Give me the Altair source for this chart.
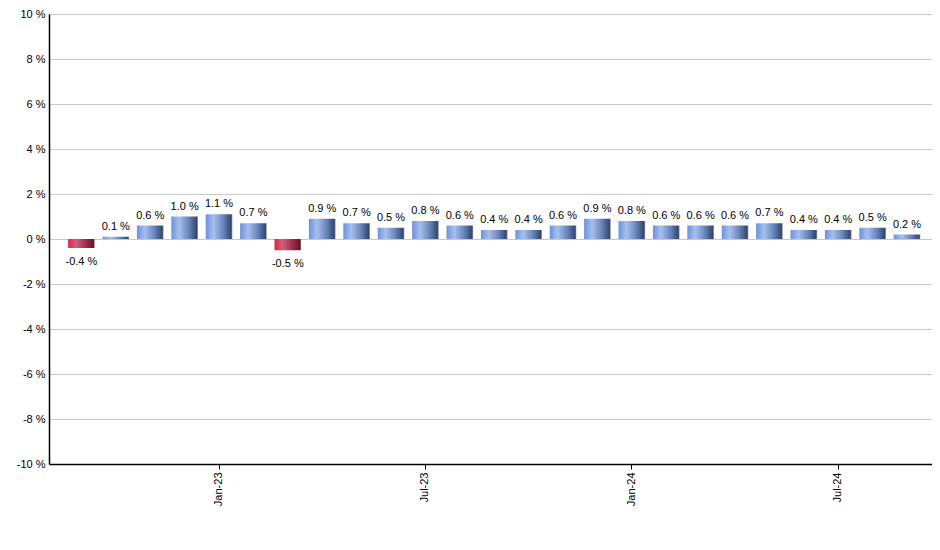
import altair as alt
import pandas as pd

months = ["Sep-22", "Oct-22", "Nov-22", "Dec-22", "Jan-23", "Feb-23", "Mar-23",
          "Apr-23", "May-23", "Jun-23", "Jul-23", "Aug-23", "Sep-23", "Oct-23",
          "Nov-23", "Dec-23", "Jan-24", "Feb-24", "Mar-24", "Apr-24", "May-24",
          "Jun-24", "Jul-24", "Aug-24", "Sep-24"]
values = [-0.4, 0.1, 0.6, 1.0, 1.1, 0.7, -0.5, 0.9, 0.7, 0.5, 0.8, 0.6, 0.4, 0.4,
          0.6, 0.9, 0.8, 0.6, 0.6, 0.6, 0.7, 0.4, 0.4, 0.5, 0.2]
tick_months = ["Jan-23", "Jul-23", "Jan-24", "Jul-24"]
y_ticks = [-10, -8, -6, -4, -2, 0, 2, 4, 6, 8, 10]

df = pd.DataFrame({"month": months, "value": values})
df["label"] = [f"{v:.1f} %" for v in values]

FONT = "Liberation Sans"

x_enc = alt.X("month:N", sort=months, title=None,
              scale=alt.Scale(domain=months, paddingInner=0.227,
                              paddingOuter=0.448, align=0.62),
              axis=alt.Axis(values=tick_months, labelAngle=-90, labelFontSize=11,
                            labelFont=FONT, labelColor="#000000", tickSize=5,
                            tickColor="#000000", domainColor="#000000",
                            domainWidth=1.5, labelPadding=3, grid=False))
y_enc = alt.Y("value:Q", title=None,
              scale=alt.Scale(domain=[-10, 10], nice=False),
              axis=alt.Axis(values=y_ticks, labelExpr="datum.value + ' %'",
                            labelFontSize=11, labelFont=FONT, labelColor="#000000",
                            ticks=False, labelPadding=4, domainColor="#000000",
                            domainWidth=1.5, gridColor="#c8c8c8", gridWidth=1))

pos_grad = alt.LinearGradient(
    gradient="linear", x1=0, x2=1, y1=0, y2=0,
    stops=[alt.GradientStop(color="#6c92de", offset=0),
           alt.GradientStop(color="#a6bfee", offset=0.3),
           alt.GradientStop(color="#6a86bd", offset=0.65),
           alt.GradientStop(color="#34486f", offset=0.95),
           alt.GradientStop(color="#8a8a8a", offset=1)])
neg_grad = alt.LinearGradient(
    gradient="linear", x1=0, x2=1, y1=0, y2=0,
    stops=[alt.GradientStop(color="#dc2150", offset=0),
           alt.GradientStop(color="#d0607a", offset=0.3),
           alt.GradientStop(color="#a0304c", offset=0.65),
           alt.GradientStop(color="#6a1428", offset=0.95),
           alt.GradientStop(color="#8a8a8a", offset=1)])

base = alt.Chart(df)

pos_bars = base.transform_filter("datum.value >= 0").mark_bar(color=pos_grad).encode(
    x=x_enc, y=y_enc, y2=alt.datum(0))
neg_bars = base.transform_filter("datum.value < 0").mark_bar(color=neg_grad).encode(
    x=x_enc, y=y_enc, y2=alt.datum(0))

pos_text = base.transform_filter("datum.value >= 0").mark_text(
    baseline="bottom", dy=-5, fontSize=11, font=FONT, color="#000000").encode(
    x=x_enc, y=y_enc, text="label:N")
neg_text = base.transform_filter("datum.value < 0").mark_text(
    baseline="top", dy=8, fontSize=11, font=FONT, color="#000000").encode(
    x=x_enc, y=y_enc, text="label:N")

chart = alt.layer(pos_bars, neg_bars, pos_text, neg_text).properties(
    width=883, height=450,
    autosize=alt.AutoSizeParams(type="none"),
    padding={"left": 41, "top": 6, "right": 0, "bottom": 50},
).configure_view(stroke=None).configure(background="#ffffff")

chart.save("out.html", embed_options={"renderer": "svg", "actions": False})
